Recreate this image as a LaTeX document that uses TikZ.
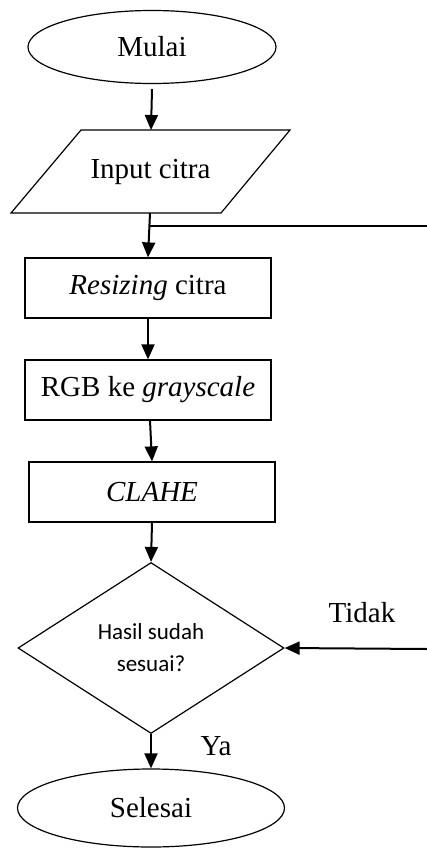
\documentclass[tikz,border=0pt]{standalone}
\usepackage{fontspec}
\setmainfont{Liberation Serif}
\newfontfamily\qfont{Carlito}
\usetikzlibrary{shapes.geometric,arrows.meta}
\tikzset{
  base/.style={draw, line width=1.2pt, inner sep=0pt, font=\fontsize{29}{34}\selectfont},
  term/.style={base, ellipse},
  procbox/.style={base, rectangle, minimum width=246pt, minimum height=60pt},
  decis/.style={base, diamond, aspect=1.556, minimum width=266pt, minimum height=171pt,
    font=\qfont\fontsize{23}{32}\selectfont, align=center},
  conn/.style={line width=2pt, -{Triangle[length=15pt,width=13pt]}},
  plainline/.style={line width=2pt},
  lbl/.style={inner sep=0pt, font=\fontsize{29}{34}\selectfont}
}
\begin{document}
\begin{tikzpicture}[x=1pt,y=-1pt]
\useasboundingbox (0,0) rectangle (427,848);
\node[term, minimum width=248pt, minimum height=73pt] (mulai) at (152,47) {Mulai};
% input parallelogram
\draw[line width=1.2pt] (81,130) -- (290,130) -- (221,213) -- (11,213) -- cycle;
\node[lbl] (input) at (150.5,172) {Input citra};
\coordinate (intop) at (151,130);
\coordinate (inbot) at (150,213);
\node[procbox] (resize) at (148,288) {\textit{Resizing} citra};
\node[procbox] (rgb) at (148,390) {RGB ke \textit{grayscale}};
\node[procbox] (clahe) at (152,492) {\textit{CLAHE}};
\node[decis] (cek) at (151,648) {Hasil sudah\\sesuai?};
\node[term, minimum width=267pt, minimum height=78pt] (selesai) at (151,808) {Selesai};
\coordinate (j1) at (150,226);
\coordinate (loopin) at (427,226);
\coordinate (loopout) at (427,649);
\node[lbl] (tidak) at (362,613) {Tidak};
\node[lbl] (ya) at (216,746) {Ya};
% connectors
\draw[conn] (mulai.south) ++(0,5) -- (intop);
\draw[conn] (inbot) -- (resize.north);
\draw[plainline] (loopin) -- (j1);
\draw[conn] (resize.south -| rgb.north) -- (rgb.north);
\draw[conn] (rgb.south) ++(2,0) -- (clahe.north);
\draw[conn] (clahe.south) -- (cek.north);
\draw[conn] (loopout) -- (cek.east);
\draw[conn] (cek.south) -- (selesai.north);
\end{tikzpicture}
\end{document}
